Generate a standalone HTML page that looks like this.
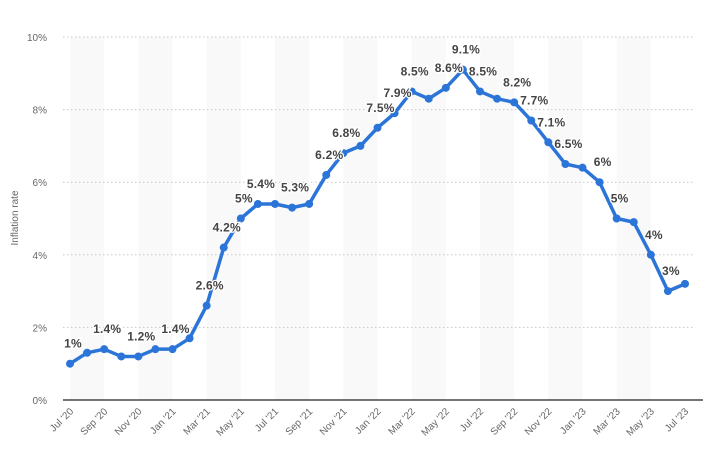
<!DOCTYPE html>
<html><head><meta charset="utf-8"><style>
body{margin:0;background:#fff;}
svg{display:block;font-family:"Liberation Sans",sans-serif;}
</style></head><body>
<svg id="chart" width="703" height="470" viewBox="0 0 703 470"></svg>
<script>
const categories=["Jul '20","Aug '20","Sep '20","Oct '20","Nov '20","Dec '20","Jan '21","Feb '21","Mar '21","Apr '21","May '21","Jun '21","Jul '21","Aug '21","Sep '21","Oct '21","Nov '21","Dec '21","Jan '22","Feb '22","Mar '22","Apr '22","May '22","Jun '22","Jul '22","Aug '22","Sep '22","Oct '22","Nov '22","Dec '22","Jan '23","Feb '23","Mar '23","Apr '23","May '23","Jun '23","Jul '23"];
const values=[1.0,1.3,1.4,1.2,1.2,1.4,1.4,1.7,2.6,4.2,5.0,5.4,5.4,5.3,5.4,6.2,6.8,7.0,7.5,7.9,8.5,8.3,8.6,9.1,8.5,8.3,8.2,7.7,7.1,6.5,6.4,6.0,5.0,4.9,4.0,3.0,3.2];
const labelText=["1%","","1.4%","","1.2%","","1.4%","","2.6%","4.2%","5%","5.4%","","5.3%","","6.2%","6.8%","","7.5%","7.9%","8.5%","","8.6%","9.1%","8.5%","","8.2%","7.7%","7.1%","6.5%","","6%","5%","","4%","3%",""];
const yTicks=[0,2,4,6,8,10];
const tickLabels=["0%","2%","4%","6%","8%","10%"];

const NS="http://www.w3.org/2000/svg";
const svg=document.getElementById('chart');
const x0=70,x1=685,y0=400,yTop=37;
const xs=i=>x0+i*(x1-x0)/(categories.length-1);
const ys=v=>y0-v*(y0-yTop)/10;
const step=(x1-x0)/(categories.length-1);
function mk(t,a){const e=document.createElementNS(NS,t);for(const k in a)e.setAttribute(k,a[k]);svg.appendChild(e);return e;}
for(let i=0;i<categories.length-1;i+=4){
 const b=mk('rect',{x:xs(i),y:yTop,width:step*2,height:y0-yTop,fill:'#f9f9f9'});
 
 
}
yTicks.forEach((t,k)=>{
 if(t>0){const g=mk('line',{x1:63,x2:694,y1:ys(t),y2:ys(t),stroke:'#c8c8c8','stroke-dasharray':'1.5,2.5','stroke-width':1});
 
 }
 const tl=mk('text',{x:47,y:ys(t)+4,'text-anchor':'end','font-size':10,fill:'#666'});tl.textContent=tickLabels[k];
 
 
});
const ax=mk('line',{x1:63,x2:703,y1:y0,y2:y0,stroke:'#222','stroke-width':1.2});


const yt=mk('text',{x:18,y:218,transform:'rotate(-90 18 218)','text-anchor':'middle','font-size':10,fill:'#666'});yt.textContent='Inflation rate';


categories.forEach((c,i)=>{
 if(i%2)return;
 const tx=xs(i)+4,ty=412;
 const t=mk('text',{x:tx,y:ty,transform:`rotate(-45 ${tx} ${ty})`,'text-anchor':'end','font-size':10,fill:'#666'});t.textContent=c;
 
 
});
const line=mk('polyline',{points:values.map((v,i)=>xs(i)+','+ys(v)).join(' '),fill:'none',stroke:'#2b74d8','stroke-width':3.5,'stroke-linejoin':'round'});


values.forEach((v,i)=>{
 const p=mk('circle',{cx:xs(i),cy:ys(v),r:4,fill:'#2b74d8'});
 
 
});
values.forEach((v,i)=>{
 if(!labelText[i])return;
 const t=mk('text',{x:xs(i)+3,y:ys(v)-16,'text-anchor':'middle','font-size':12,'font-weight':'bold',fill:'#444',stroke:'#fff','stroke-width':2.5,'paint-order':'stroke','letter-spacing':'0.2'});
 t.textContent=labelText[i];
 
 
});
</script>
</body></html>
